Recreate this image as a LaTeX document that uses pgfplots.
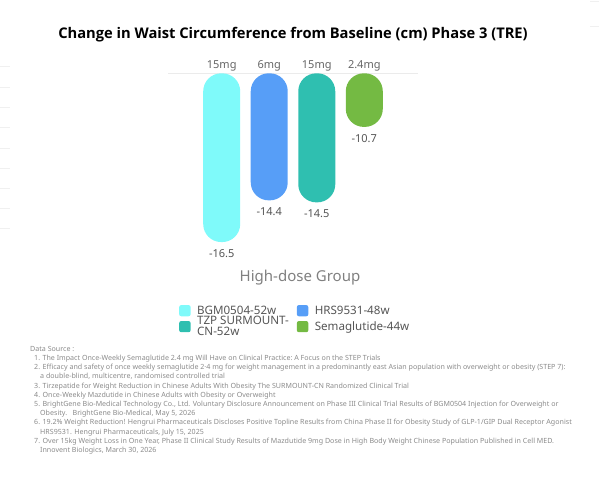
\documentclass[border=0pt]{standalone}
\usepackage{pgfplots}
\pgfplotsset{compat=1.18}
\usepackage{fontspec}
\setmainfont{Noto Sans}
\newfontfamily\titlefont{Open Sans}
\definecolor{cBGM}{HTML}{7FFAFA}
\definecolor{cHRS}{HTML}{579EF7}
\definecolor{cTZP}{HTML}{2FBFB0}
\definecolor{cSema}{HTML}{74BA43}
\definecolor{txt}{HTML}{555555}
\definecolor{src}{HTML}{8A8A8A}
\begin{document}
\begin{tikzpicture}[x=1pt,y=1pt]
  % page frame 599 x 477 (1pt = 1px of the reference)
  \useasboundingbox (0,0) rectangle (599,477);
  % faint stray rules at the edges
  \foreach \yy in {66,87,107,127,148,168,188,208,228}
    \draw[black!6,line width=0.8pt] (0,477-\yy) -- (10,477-\yy);
  \foreach \yy in {1,26}
    \draw[black!6,line width=0.8pt] (590,477-\yy) -- (599,477-\yy);

  \node[font=\titlefont\fontsize{14.7}{18}\selectfont\bfseries] at (293,477-35)
    {Change in Waist Circumference from Baseline (cm) Phase 3 (TRE)};

  \begin{axis}[
      at={(168pt,403.7pt)}, anchor=north west,
      scale only axis, width=250pt, height=178.7pt,
      xmin=-1.13, xmax=4.13, ymin=-17, ymax=-8,
      y coord trafo/.code={\pgfmathparse{#1+8}},
      y coord inv trafo/.code={\pgfmathparse{#1-8}},
      axis y line=none, axis x line*=top,
      axis line style={draw=black!8, -},
      xtick={0,1,2,3}, xticklabels={15mg,6mg,15mg,2.4mg},
      major tick length=0pt,
      xticklabel style={font=\fontsize{11}{13}\selectfont, text=black!60, yshift=-1pt},
      clip=false,
      ybar, bar width=37pt, bar shift=0pt,
      every axis plot/.append style={draw=none, rounded corners=18pt},
      point meta=explicit symbolic,
      nodes near coords,
      nodes near coords style={font=\fontsize{11}{13}\selectfont, text=txt,
        anchor=north, yshift=-4pt},
      legend columns=2,
      legend cell align=left,
      legend style={at={(0.044,-0.296)}, anchor=north west, draw=none, fill=none,
        font=\fontsize{11.6}{10.8}\selectfont, text=txt, inner sep=0pt,
        nodes={align=left, inner sep=0pt, outer sep=0pt},
        /tikz/every odd column/.append style={column sep=6.5pt},
        /tikz/every even column/.append style={column sep=8pt}},
      legend image code/.code={\fill[#1, rounded corners=2pt] (0pt,-5.6pt) rectangle (11.4pt,5.6pt);},
    ]
    \addplot[fill=cBGM] coordinates {(0,-16.5) [-16.5]};
    \addplot[fill=cHRS] coordinates {(1,-14.4) [-14.4]};
    \addplot[fill=cTZP] coordinates {(2,-14.5) [-14.5]};
    \addplot[fill=cSema] coordinates {(3,-10.7) [-10.7]};
    \legend{BGM0504-52w, HRS9531-48w, {TZP SURMOUNT-\\CN-52w}, Semaglutide-44w}
  \end{axis}

  \node[font=\fontsize{15}{18}\selectfont, text=black!50] at (300,477-278) {High-dose Group};

  \node[anchor=north west, align=left, inner sep=0pt, text=src,
        font=\fontsize{7.1}{9.2}\selectfont] at (30,477-346) {%
    Data Source :\\
    \hspace*{4pt}1. The Impact Once-Weekly Semaglutide 2.4 mg Will Have on Clinical Practice:\ A Focus on the STEP Trials\\
    \hspace*{4pt}2. Efficacy and safety of once weekly semaglutide 2·4 mg for weight management in a predominantly east Asian population with overweight or obesity (STEP 7):\\
    \hspace*{10pt}a double-blind, multicentre, randomised controlled trial\\
    \hspace*{4pt}3. Tirzepatide for Weight Reduction in Chinese Adults With Obesity The SURMOUNT-CN Randomized Clinical Trial\\
    \hspace*{4pt}4. Once-Weekly Mazdutide in Chinese Adults with Obesity or Overweight\\
    \hspace*{4pt}5. BrightGene Bio-Medical Technology Co., Ltd. Voluntary Disclosure Announcement on Phase III Clinical Trial Results of BGM0504 Injection for Overweight or\\
    \hspace*{10pt}Obesity.\ \ \ BrightGene Bio-Medical, May 5, 2026\\
    \hspace*{4pt}6. 19.2\% Weight Reduction! Hengrui Pharmaceuticals Discloses Positive Topline Results from China Phase II for Obesity Study of GLP-1/GIP Dual Receptor Agonist\\
    \hspace*{10pt}HRS9531. Hengrui Pharmaceuticals, July 15, 2025\\
    \hspace*{4pt}7. Over 15kg Weight Loss in One Year, Phase II Clinical Study Results of Mazdutide 9mg Dose in High Body Weight Chinese Population Published in Cell MED.\\
    \hspace*{10pt}Innovent Biologics, March 30, 2026};
\end{tikzpicture}
\end{document}
